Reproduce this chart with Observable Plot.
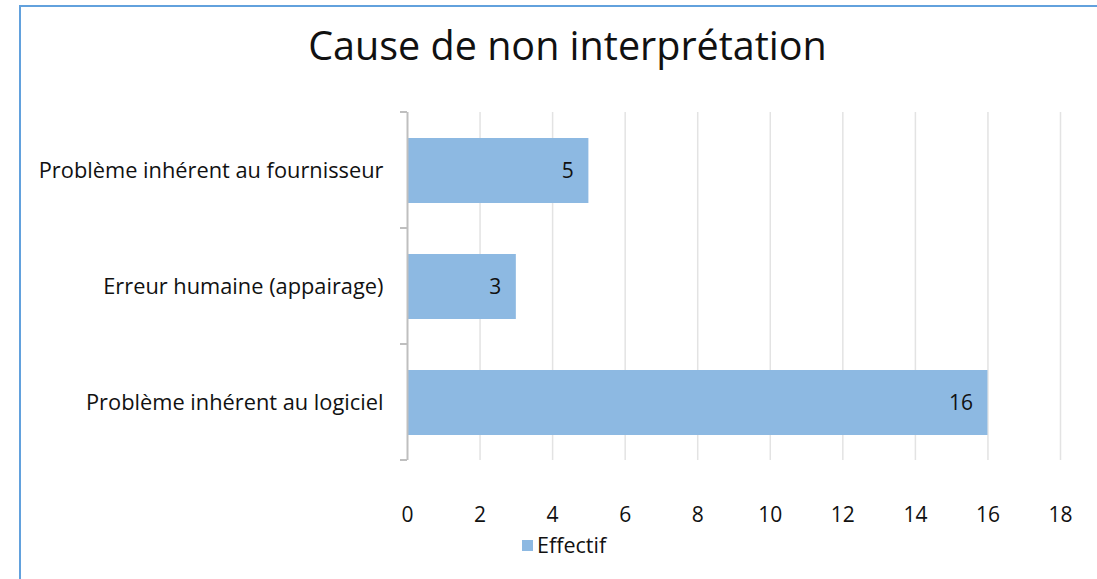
<!DOCTYPE html>
<html>
<head>
<meta charset="utf-8">
<script src="https://cdn.jsdelivr.net/npm/d3@7"></script>
<script src="https://cdn.jsdelivr.net/npm/@observablehq/plot@0.6"></script>
<style>
  html, body { margin: 0; padding: 0; background: #fff; }
  body { width: 1097px; height: 579px; position: relative; overflow: hidden; font-family: "Open Sans", sans-serif; }
  #frame { position: absolute; left: 19px; top: 5px; width: 1120px; height: 620px; border-left: 2px solid #62a1dd; border-top: 2px solid #62a1dd; box-sizing: border-box; }
  #title { position: absolute; left: 19px; width: 1097px; top: 21px; text-align: center; font-size: 39.5px; color: #111; line-height: 48px; }
  #chart { position: absolute; left: 0; top: 0; }
  #legend { position: absolute; left: 522px; top: 530px; display: flex; align-items: center; font-size: 21.5px; color: #111; line-height: 30px; }
  #legend .sw { width: 11px; height: 11px; margin-right: 4px; }
</style>
</head>
<body>
<div id="frame"></div>
<div id="title"></div>
<div id="chart"></div>
<div id="legend"></div>
<script>
const titleText = "Cause de non interprétation";
const seriesName = "Effectif";
const categories = ["Problème inhérent au fournisseur", "Erreur humaine (appairage)", "Problème inhérent au logiciel"];
const values = [5, 3, 16];
const xTicks = [0, 2, 4, 6, 8, 10, 12, 14, 16, 18];
const barColor = "#8db9e2";

const data = categories.map((c, i) => ({category: c, value: values[i]}));

document.getElementById("title").textContent = titleText;

// ticks on the category axis placed at band boundaries
function bandBoundaryTicks(index, scales, values, dimensions) {
  const y = scales.y, x = scales.x;
  const step = y(categories[1]) - y(categories[0]);
  const g = d3.create("svg:g");
  const x0 = x(0);
  for (let k = 0; k <= categories.length; k++) {
    const yy = dimensions.marginTop + k * step;
    g.append("line").attr("x1", x0 - 7).attr("x2", x0).attr("y1", yy).attr("y2", yy)
      .attr("stroke", "#bfbfbf").attr("stroke-width", 2);
  }
  return g.node();
}

const chart = Plot.plot({
  width: 1097,
  height: 540,
  marginLeft: 407,
  marginRight: 37,
  marginTop: 112,
  marginBottom: 80,
  style: {fontFamily: "'Open Sans', sans-serif", color: "#111", background: "transparent"},
  x: {domain: [0, 18]},
  y: {domain: categories, paddingInner: 0.44, paddingOuter: 0.22},
  marks: [
    Plot.ruleX(xTicks.filter(d => d > 0), {stroke: "#e3e3e3", strokeWidth: 1.5}),
    Plot.barX(data, {x: "value", y: "category", fill: barColor}),
    Plot.ruleX([0], {stroke: "#bfbfbf", strokeWidth: 2}),
    bandBoundaryTicks,
    Plot.text(data, {x: "value", y: "category", text: d => String(d.value), textAnchor: "end", dx: -15, fontSize: 21, fill: "#111"}),
    Plot.axisX({ticks: xTicks, tickSize: 0, tickPadding: 47, fontSize: 21, label: null}),
    Plot.axisY({tickSize: 0, tickPadding: 24, fontSize: 21.8, label: null})
  ]
});
document.getElementById("chart").appendChild(chart);

const legend = document.getElementById("legend");
const sw = document.createElement("span");
sw.className = "sw";
sw.style.background = barColor;
legend.appendChild(sw);
const lt = document.createElement("span");
lt.textContent = seriesName;
legend.appendChild(lt);
</script>
</body>
</html>
